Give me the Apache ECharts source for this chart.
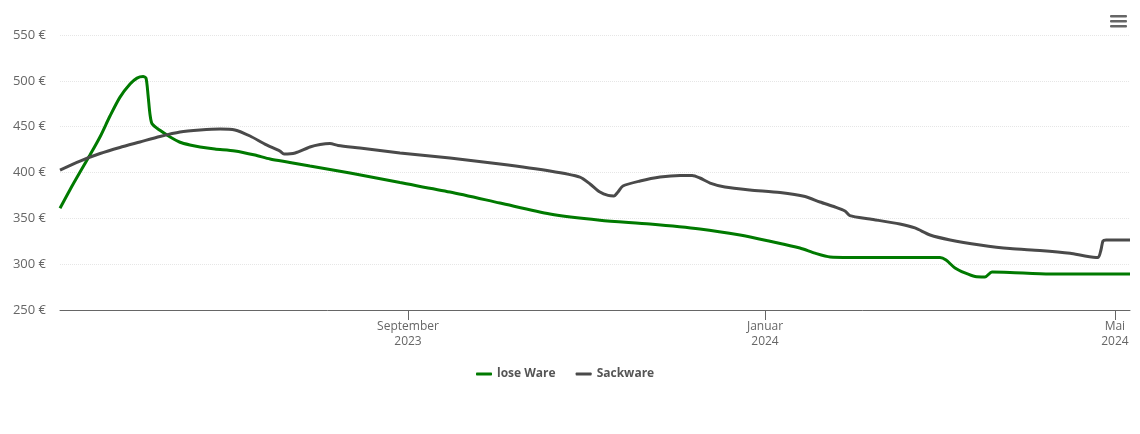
<!DOCTYPE html>
<html>
<head>
<meta charset="utf-8">
<style>html,body{margin:0;padding:0;background:#fff}#c{width:1140px;height:434px}</style>
<script src="https://cdn.jsdelivr.net/npm/echarts@6/dist/echarts.min.js"></script>
</head>
<body>
<div id="c"></div>
<script>
const startDate = Date.UTC(2023, 4, 4);
const endDay = 368.2;
const tickDays = [119.75, 242.6, 363];
const tickLabels = ['September\n2023', 'Januar\n2024', 'Mai\n2024'];
const yTicks = { min: 250, max: 550, step: 50 };
const seriesNames = ['lose Ware', 'Sackware'];

const loseDays = [0,3.4,6.9,10.3,13.8,17.2,20.6,24.1,26.5,28.6,29.6,30.3,31,31.7,34.4,37.9,41.3,44.7,48.2,53.3,60.2,67.1,72.3,79.1,86,99.8,117,134.2,151.4,168.6,185.8,203,220.2,234,244.3,254.6,259.8,265,271.8,289,302.8,304.9,308,311.4,314.9,318.3,320.7,326.9,340.7,357.9,368.2];
const losePrices = [361,381,400.5,419,439,461.6,482,496.5,503,504.7,503,484.5,462.7,453,446,438.7,433,430,427.8,425.6,423.5,419,414.7,411,407,399.5,389,378.7,366.7,354.7,348,343.8,338.4,331.8,325,317.6,312,307.8,307.3,307.3,307.3,304.5,295.8,290.4,286.5,286,291.5,291,289.3,289.3,289.3];

const sackDays = [0,6.9,13.8,20.6,27.5,34.4,41.3,48.2,55.1,60.2,65.4,70.5,75.7,77.1,80.9,86,89.5,92.9,95.7,103.2,117,134.2,151.4,168.6,178.9,182.4,185.8,188.6,190.6,192,193.7,199.6,206.5,213.4,217.5,220.2,223.7,228.8,237.4,247.8,256.4,261.5,266.7,270.1,271.8,278.7,289,294.2,299.4,306.3,316.6,326.9,337.2,347.6,352.7,357.2,358.2,358.9,360,368.2];
const sackPrices = [402.7,412.5,420.7,427.3,433.3,439.3,444.2,446.4,447.5,446.4,439.8,431,423.4,420.2,421.3,427.8,430.5,431.6,429.5,426.7,421.3,415.8,409.3,401.6,395,387.5,378.7,375,374.4,378.7,385.3,390.7,395,396.7,396.7,394,388.5,384.2,381,378.2,373.8,367.8,362.4,358,353,349.3,343.8,339.5,331.8,326.4,321,317,315,312,309,307.3,315.5,325.3,326.4,326.4];

const DAY = 86400000;
const toTime = d => startDate + d * DAY;
const pair = (days, prices) => days.map((d, i) => [toTime(d), prices[i]]);
const tickTimes = tickDays.map(toTime);
const font = '"Open Sans", "Noto Sans", sans-serif';

const chart = echarts.init(document.getElementById('c'), null, { renderer: 'canvas' });
chart.setOption({
  animation: false,
  backgroundColor: '#fff',
  grid: { left: 60, right: 10, top: 35, bottom: 124, containLabel: false },
  legend: {
    left: 471, top: 363,
    data: seriesNames,
    icon: 'roundRect', itemWidth: 16, itemHeight: 3, itemGap: 20,
    textStyle: { color: '#555', fontFamily: font, fontSize: 12, fontWeight: 'bold' }
  },
  xAxis: {
    type: 'value', scale: true,
    min: toTime(0), max: toTime(endDay),
    axisLine: { show: true, lineStyle: { color: '#666', width: 1 } },
    axisTick: { show: true, length: 10, customValues: tickTimes, lineStyle: { color: '#666', width: 1 } },
    splitLine: { show: false },
    axisLabel: {
      show: true, customValues: tickTimes, margin: 9, color: '#666', fontFamily: font, fontSize: 12, lineHeight: 15,
      hideOverlap: false, showMinLabel: true, showMaxLabel: true,
      formatter: v => {
        const i = tickTimes.findIndex(t => Math.abs(t - v) < DAY);
        return i >= 0 ? tickLabels[i] : '';
      }
    }
  },
  yAxis: {
    type: 'value',
    min: yTicks.min, max: yTicks.max, interval: yTicks.step,
    axisLine: { show: false }, axisTick: { show: false },
    axisLabel: { margin: 14, padding: [7, 0, 0, 0], color: '#666', fontFamily: font, fontSize: 13, formatter: '{value} €' },
    splitLine: { show: true, lineStyle: { color: '#e6e6e6', width: 1, type: 'dotted' } }
  },
  graphic: [1, 2, 3].map(k => ({
    type: 'rect', right: 13, top: 10 + k * 5,
    shape: { width: 17, height: 2.6, r: 1 },
    style: { fill: '#666' }
  })),
  series: [
    { name: seriesNames[0], type: 'line', data: pair(loseDays, losePrices), showSymbol: false, smooth: 0.25, color: '#007a00', lineStyle: { width: 3, color: '#007a00' } },
    { name: seriesNames[1], type: 'line', data: pair(sackDays, sackPrices), showSymbol: false, smooth: 0.25, color: '#4a4a4a', lineStyle: { width: 3, color: '#4a4a4a' } }
  ]
});
</script>
</body>
</html>
